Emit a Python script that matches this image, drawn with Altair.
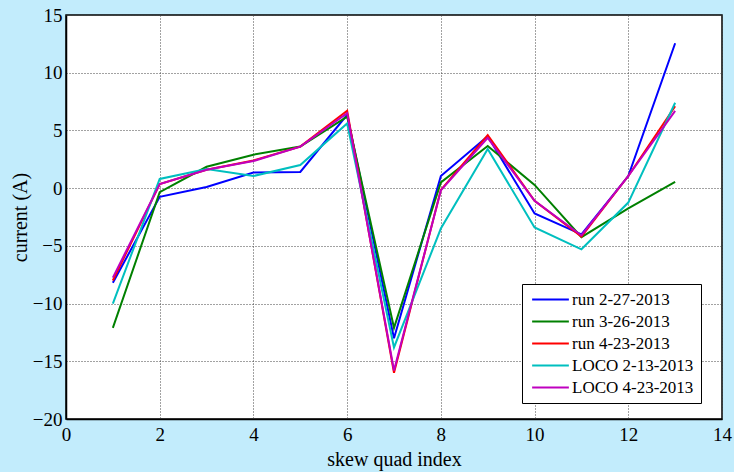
import altair as alt
import pandas as pd

quad_index = list(range(1, 14))
series_names = ["run 2-27-2013", "run 3-26-2013", "run 4-23-2013", "LOCO 2-13-2013", "LOCO 4-23-2013"]
run_2_27 = [-8.2, -0.75, 0.1, 1.35, 1.4, 6.35, -13.0, 1.05, 4.5, -2.2, -4.0, 1.05, 12.55]
run_3_26 = [-12.1, -0.35, 1.85, 2.9, 3.6, 6.2, -12.1, 0.5, 3.65, 0.28, -4.25, -1.75, 0.55]
run_4_23 = [-8.0, 0.35, 1.6, 2.4, 3.6, 6.7, -16.0, -0.15, 4.6, -1.1, -4.2, 1.05, 7.1]
loco_2_13 = [-10.0, 0.8, 1.65, 1.05, 2.0, 5.6, -13.8, -3.5, 3.4, -3.4, -5.3, -1.25, 7.4]
loco_4_23 = [-7.75, 0.35, 1.6, 2.35, 3.6, 6.5, -15.8, -0.2, 4.35, -1.1, -4.1, 1.05, 6.7]
colors = ["#0000FF", "#008000", "#FF0000", "#00BFBF", "#BF00BF"]

all_series = [run_2_27, run_3_26, run_4_23, loco_2_13, loco_4_23]
rows = []
for k, (name, vals) in enumerate(zip(series_names, all_series)):
    for q, v in zip(quad_index, vals):
        rows.append({"series": name, "idx": q, "current": v, "k": k})
df = pd.DataFrame(rows)

font = "Liberation Serif, Times New Roman, serif"

chart = alt.Chart(df).mark_line(strokeWidth=2).encode(
    x=alt.X("idx:Q", scale=alt.Scale(domain=[0, 14], nice=False),
            axis=alt.Axis(title="skew quad index", values=list(range(0, 15, 2)), format="d")),
    y=alt.Y("current:Q", scale=alt.Scale(domain=[-20, 15], nice=False),
            axis=alt.Axis(title="current (A)", values=list(range(-20, 16, 5)), format="d")),
    color=alt.Color("series:N", scale=alt.Scale(domain=series_names, range=colors),
                    sort=series_names,
                    legend=alt.Legend(title=None, orient="none", legendX=456, legendY=269,
                                      symbolType="M-3,0H3", symbolSize=150, symbolStrokeWidth=2,
                                      symbolOffset=13, labelOffset=13,
                                      labelFont=font, labelFontSize=17, labelColor="black",
                                      fillColor="white", strokeColor="black", padding=7,
                                      rowPadding=4, labelLimit=300)),
    order=alt.Order("k:Q"),
    detail="series:N",
).properties(
    width=656, height=404,
    autosize=alt.AutoSizeParams(type="none"),
    padding={"left": 66, "top": 15, "right": 12, "bottom": 53},
    background="#C2ECFC",
).configure_view(
    fill="white", stroke="black", strokeWidth=1.5
).configure_axis(
    labelFont=font, titleFont=font, labelFontSize=19, titleFontSize=20,
    labelColor="black", titleColor="black", titleFontWeight="normal",
    grid=True, gridColor="#444444", gridDash=[1, 2], gridOpacity=1, gridWidth=1,
    domainColor="black", domainWidth=1.5, ticks=False, labelFlush=False,
).configure_axisX(
    labelPadding=6, titlePadding=5,
).configure_axisY(
    labelPadding=4, titlePadding=2,
)

chart.save("out.html", embed_options={"renderer": "svg", "actions": False})
